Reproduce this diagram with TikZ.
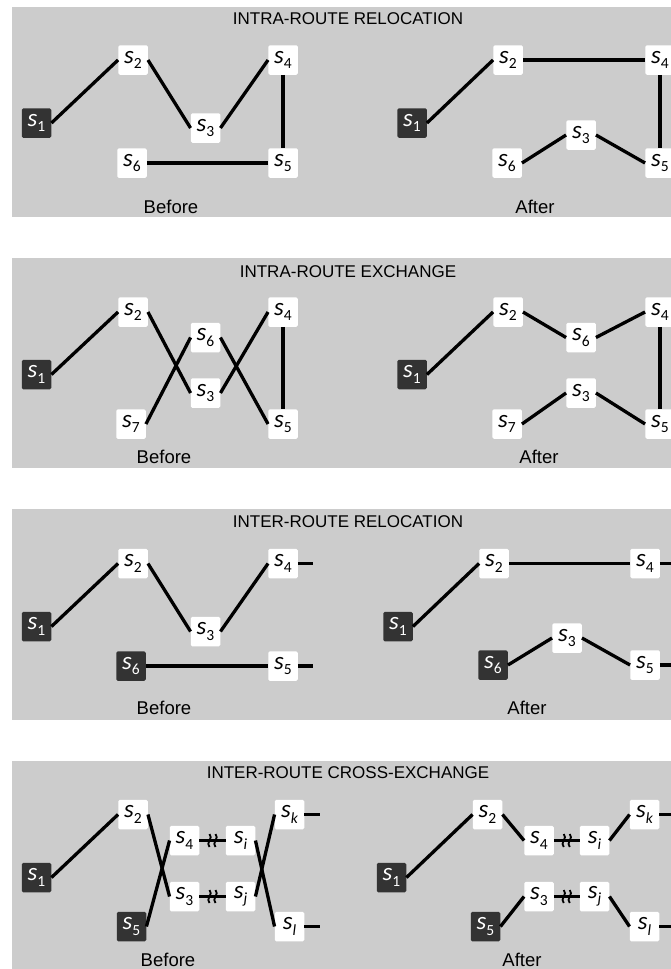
\documentclass[tikz,border=0pt]{standalone}
\usepackage{fontspec}
\setmainfont{Liberation Sans}
\newfontfamily\labfont{Carlito}
\usetikzlibrary{calc}

\definecolor{panelgray}{RGB}{204,204,204}
\definecolor{depot}{RGB}{51,51,51}

% customer label: italic s with a lowered index
\newcommand\slab[1]{{\labfont\fontsize{25}{25}\selectfont\itshape s}\raisebox{-5.5pt}{\labfont\fontsize{15.5}{15.5}\selectfont #1}}

\tikzset{
  panel/.style={fill=panelgray, draw=none},
  cust/.style={fill=white, draw=none, minimum width=29.5, minimum height=29.5, inner sep=0pt, rounded corners=1.5pt},
  depotbox/.style={cust, fill=depot, text=white},
  arc/.style={line width=3.3, black},
  brk/.style={line width=1.8, black},
  ttl/.style={font=\fontsize{17}{20}\selectfont},
  phase/.style={font=\fontsize{18.5}{22}\selectfont},
}

% broken-link mark on a connector
\newcommand\linkbreak[1]{%
  \draw[brk] ([shift={(-3,-6.5)}]#1) .. controls +(4.5,4) and +(-4.5,-4) .. ([shift={(-3,6.5)}]#1);
  \draw[brk] ([shift={(3,-6.5)}]#1) .. controls +(4.5,4) and +(-4.5,-4) .. ([shift={(3,6.5)}]#1);}

\begin{document}
\begin{tikzpicture}[x=1pt, y=-1pt]
\useasboundingbox (0,0) rectangle (670,969);

% panels
\fill[panel] (12,7) rectangle (684,217);
\fill[panel] (12,258) rectangle (684,468);
\fill[panel] (12,509) rectangle (684,720);
\fill[panel] (12,761) rectangle (684,975);

%% ---------- Intra-route relocation ----------
\node[ttl] (t1) at (348,19) {INTRA-ROUTE RELOCATION};
\node[phase] (b1) at (171,207) {Before};
\node[phase] (f1) at (535,207) {After};

\node[depotbox] (ab1) at (36.5,123) {\slab{1}};
\node[cust] (ab2) at (133,60) {\slab{2}};
\node[cust] (ab3) at (205.5,128) {\slab{3}};
\node[cust] (ab4) at (283,60) {\slab{4}};
\node[cust] (ab5) at (283,163) {\slab{5}};
\node[cust] (ab6) at (132,163) {\slab{6}};
\draw[arc] (ab1.east) -- (ab2.west);
\draw[arc] (ab2.east) -- (ab3.west);
\draw[arc] (ab3.east) -- (ab4.west);
\draw[arc] (ab4.south) -- (ab5.north);
\draw[arc] (ab6.east) -- (ab5.west);

\node[depotbox] (aa1) at (412,123) {\slab{1}};
\node[cust] (aa2) at (508,60) {\slab{2}};
\node[cust] (aa4) at (660,60) {\slab{4}};
\node[cust] (aa3) at (581,135) {\slab{3}};
\node[cust] (aa6) at (507,163) {\slab{6}};
\node[cust] (aa5) at (660,163) {\slab{5}};
\draw[arc] (aa1.east) -- (aa2.west);
\draw[arc] (aa2.east) -- (aa4.west);
\draw[arc] (aa4.south) -- (aa5.north);
\draw[arc] (aa3.east) -- (aa5.west);
\draw[arc] (aa6.east) -- (aa3.west);

%% ---------- Intra-route exchange ----------
\node[ttl] (t2) at (348,272) {INTRA-ROUTE EXCHANGE};
\node[phase] (b2) at (164,457) {Before};
\node[phase] (f2) at (539,457) {After};

\node[depotbox] (bb1) at (36.5,374.5) {\slab{1}};
\node[cust] (bb2) at (133,312) {\slab{2}};
\node[cust] (bb6) at (205.5,337.5) {\slab{6}};
\node[cust] (bb3) at (205.5,393) {\slab{3}};
\node[cust] (bb7) at (131,424) {\slab{7}};
\node[cust] (bb4) at (283,312) {\slab{4}};
\node[cust] (bb5) at (283,424) {\slab{5}};
\draw[arc] (bb1.east) -- (bb2.west);
\draw[arc] (bb2.east) -- (bb3.west);
\draw[arc] (bb3.east) -- (bb4.west);
\draw[arc] (bb4.south) -- (bb5.north);
\draw[arc] (bb6.east) -- (bb5.west);
\draw[arc] (bb7.east) -- (bb6.west);

\node[depotbox] (ba1) at (412,374.5) {\slab{1}};
\node[cust] (ba2) at (508,312) {\slab{2}};
\node[cust] (ba6) at (581,337.5) {\slab{6}};
\node[cust] (ba4) at (660,312) {\slab{4}};
\node[cust] (ba3) at (581,393) {\slab{3}};
\node[cust] (ba7) at (507,424) {\slab{7}};
\node[cust] (ba5) at (660,424) {\slab{5}};
\draw[arc] (ba1.east) -- (ba2.west);
\draw[arc] (ba2.east) -- (ba6.west);
\draw[arc] (ba6.east) -- (ba4.west);
\draw[arc] (ba4.south) -- (ba5.north);
\draw[arc] (ba3.east) -- (ba5.west);
\draw[arc] (ba7.east) -- (ba3.west);

%% ---------- Inter-route relocation ----------
\node[ttl] (t3) at (348,522) {INTER-ROUTE RELOCATION};
\node[phase] (b3) at (164,708) {Before};
\node[phase] (f3) at (527,708) {After};

\node[depotbox] (cb1) at (36.5,626.5) {\slab{1}};
\node[cust] (cb2) at (133,563.5) {\slab{2}};
\node[cust] (cb3) at (205.5,631.5) {\slab{3}};
\node[cust] (cb4) at (283,563.5) {\slab{4}};
\node[depotbox] (cb6) at (131,666) {\slab{6}};
\node[cust] (cb5) at (283,666) {\slab{5}};
\coordinate (cb4x) at (313,563.5);
\coordinate (cb5x) at (313,666);
\draw[arc] (cb1.east) -- (cb2.west);
\draw[arc] (cb2.east) -- (cb3.west);
\draw[arc] (cb3.east) -- (cb4.west);
\draw[arc] (cb6.east) -- (cb5.west);
\draw[arc] (cb4.east) -- (cb4x);
\draw[arc] (cb5.east) -- (cb5x);

\node[depotbox] (ca1) at (398,626.5) {\slab{1}};
\node[cust] (ca2) at (494,563.5) {\slab{2}};
\node[cust] (ca4) at (645,563.5) {\slab{4}};
\node[cust] (ca3) at (567,638) {\slab{3}};
\node[depotbox] (ca6) at (493,665) {\slab{6}};
\node[cust] (ca5) at (645,665) {\slab{5}};
\coordinate (ca4x) at (675,563.5);
\coordinate (ca5x) at (675,665);
\draw[arc] (ca1.east) -- (ca2.west);
\draw[arc] (ca2.east) -- (ca4.west);
\draw[arc] (ca6.east) -- (ca3.west);
\draw[arc] (ca3.east) -- (ca5.west);
\draw[arc] (ca4.east) -- (ca4x);
\draw[arc] (ca5.east) -- (ca5x);

%% ---------- Inter-route cross-exchange ----------
\node[ttl] (t4) at (348,773) {INTER-ROUTE CROSS-EXCHANGE};
\node[phase] (b4) at (168,960) {Before};
\node[phase] (f4) at (522,960) {After};

\node[depotbox] (db1) at (36.5,877.5) {\slab{1}};
\node[cust] (db2) at (133,814.5) {\slab{2}};
\node[cust] (db4) at (184.5,840.5) {\slab{4}};
\node[cust] (dbi) at (240.5,840.5) {\slab{\itshape i}};
\node[cust] (db3) at (184.5,896.5) {\slab{3}};
\node[cust] (dbj) at (240.5,896.5) {\slab{\itshape j}};
\node[cust] (dbk) at (289.5,814.5) {\slab{\itshape k}};
\node[cust] (dbl) at (289.5,926.5) {\slab{\itshape l}};
\node[depotbox] (db5) at (131.5,926.5) {\slab{5}};
\coordinate (dbkx) at (320,814.5);
\coordinate (dblx) at (320,926.5);
\draw[arc] (db1.east) -- (db2.west);
\draw[arc] (db2.east) -- (db3.west);
\draw[arc] (db5.east) -- (db4.west);
\draw[arc] (db4.east) -- coordinate (dbm1) (dbi.west);
\draw[arc] (db3.east) -- coordinate (dbm2) (dbj.west);
\draw[arc] (dbi.east) -- (dbl.west);
\draw[arc] (dbj.east) -- (dbk.west);
\draw[arc] (dbk.east) -- (dbkx);
\draw[arc] (dbl.east) -- (dblx);
\linkbreak{dbm1}
\linkbreak{dbm2}

\node[depotbox] (da1) at (391.5,877.5) {\slab{1}};
\node[cust] (da2) at (487.5,814.5) {\slab{2}};
\node[cust] (da4) at (539,840.5) {\slab{4}};
\node[cust] (dai) at (594.5,840.5) {\slab{\itshape i}};
\node[cust] (dak) at (644.5,814.5) {\slab{\itshape k}};
\node[cust] (da3) at (539,896.5) {\slab{3}};
\node[cust] (daj) at (594.5,896.5) {\slab{\itshape j}};
\node[depotbox] (da5) at (485.5,926.5) {\slab{5}};
\node[cust] (dal) at (644.5,926.5) {\slab{\itshape l}};
\coordinate (dakx) at (675,814.5);
\coordinate (dalx) at (675,926.5);
\draw[arc] (da1.east) -- (da2.west);
\draw[arc] (da2.east) -- (da4.west);
\draw[arc] (da4.east) -- coordinate (dam1) (dai.west);
\draw[arc] (dai.east) -- (dak.west);
\draw[arc] (da5.east) -- (da3.west);
\draw[arc] (da3.east) -- coordinate (dam2) (daj.west);
\draw[arc] (daj.east) -- (dal.west);
\draw[arc] (dak.east) -- (dakx);
\draw[arc] (dal.east) -- (dalx);
\linkbreak{dam1}
\linkbreak{dam2}
\end{tikzpicture}
\end{document}
